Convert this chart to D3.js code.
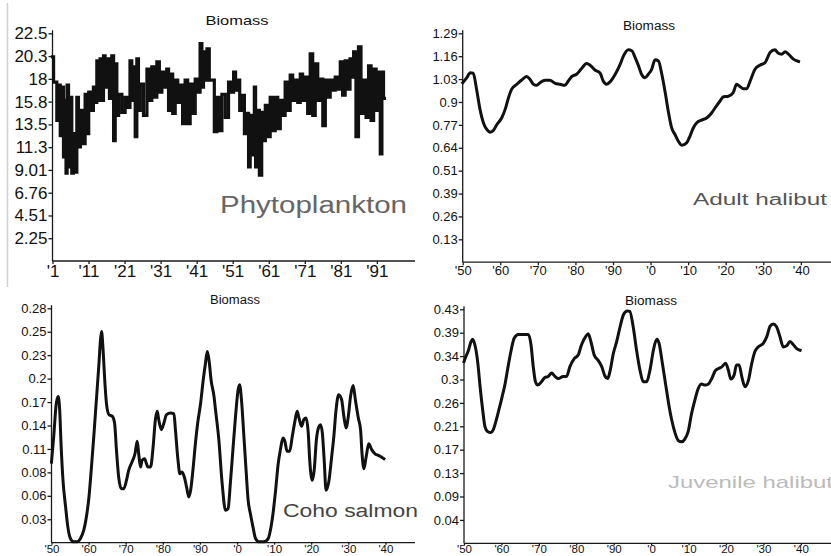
<!DOCTYPE html>
<html><head><meta charset="utf-8">
<script src="https://cdn.jsdelivr.net/npm/d3@7"></script>
<style>body{margin:0;background:#fff}svg{display:block}</style>
</head><body>
<svg id="c" width="831" height="556"></svg>
<script>
// ---------- DATA ----------
const phytoYears = [1.0,1.6,1.9,2.5,2.9,3.4,3.8,4.3,4.6,4.9,5.2,5.7,6.1,6.6,7.0,7.6,7.9,8.5,9.0,9.8,10.3,10.8,11.3,12.1,12.6,13.1,13.5,14.0,14.4,15.0,15.3,15.9,16.4,17.2,17.7,18.2,18.6,19.1,19.6,20.9,21.4,22.3,22.7,23.3,23.7,24.2,24.6,25.1,25.6,26.9,27.5,28.3,28.8,29.7,30.2,31.1,31.6,32.5,32.9,33.5,33.9,34.8,35.3,36.2,36.7,37.5,38.1,38.9,39.5,40.3,40.9,41.7,42.2,42.7,43.1,43.6,44.1,44.9,45.5,46.3,46.9,47.7,48.3,49.6,50.1,51.0,51.5,52.1,52.6,53.3,53.8,54.7,55.1,55.7,56.0,56.8,57.2,57.5,58.0,58.8,59.3,59.8,60.3,61.1,61.7,62.5,63.1,63.9,64.5,65.3,65.8,66.7,67.2,68.1,68.6,69.5,70.0,70.8,71.4,72.2,72.8,73.6,74.2,75.0,75.6,76.4,77.0,77.8,78.3,79.2,79.7,80.6,81.1,81.9,82.5,83.3,83.8,84.3,84.8,85.6,86.2,87.0,87.6,88.4,89.0,89.8,90.4,91.2,91.7,92.2,92.6,93.1];
const phytoBiomass = [20.2,17.7,17.7,13.9,17.4,12.4,17.2,10.3,15.9,8.7,17.4,9.3,16.2,8.7,12.6,8.8,16.2,11.3,14.9,11.6,16.5,12.6,16.7,14.9,17.2,15.7,19.8,15.9,20.0,15.9,20.3,17.2,20.0,16.1,20.3,11.9,19.5,14.4,16.5,14.7,16.2,15.2,19.8,15.9,19.2,12.3,20.0,14.9,17.5,14.4,19.0,15.9,19.2,16.2,19.7,16.7,18.7,17.2,19.0,14.9,18.5,14.6,17.9,15.7,17.4,13.6,17.9,13.6,17.5,14.6,18.0,16.7,21.5,17.2,20.7,17.9,21.0,17.9,17.9,12.8,16.2,12.9,16.5,14.2,17.7,16.7,18.7,16.9,17.9,14.9,16.4,12.6,14.6,9.3,14.4,10.5,17.2,9.3,14.9,8.5,14.7,11.9,15.4,12.3,16.2,12.9,16.2,13.1,15.9,14.4,17.7,14.9,18.4,15.9,17.9,15.7,18.5,15.9,18.2,14.6,20.5,14.4,19.5,15.9,18.0,13.4,17.9,16.2,17.9,16.9,18.2,17.0,19.7,16.4,19.8,17.0,20.0,18.2,20.7,12.3,21.2,14.6,17.9,14.2,19.3,13.9,19.0,14.9,18.7,10.6,18.7,16.1];

const adultYears = [1950.0,1951.1,1952.0,1952.8,1953.7,1954.6,1955.5,1956.4,1957.3,1958.2,1959.1,1960.4,1961.3,1962.2,1963.0,1964.4,1965.7,1967.0,1967.9,1968.8,1969.7,1970.6,1971.9,1973.2,1974.6,1975.9,1977.2,1978.1,1979.0,1980.3,1981.7,1983.0,1983.9,1985.2,1986.6,1987.4,1988.3,1989.2,1990.6,1991.9,1992.8,1994.1,1995.0,1995.9,1996.8,1997.6,1998.5,1999.4,2000.3,2001.2,2002.1,2003.0,2003.9,2004.7,2005.6,2006.5,2007.4,2008.3,2009.6,2010.5,2011.4,2012.3,2013.6,2015.0,2016.3,2017.2,2018.5,2019.4,2020.7,2022.0,2022.9,2023.8,2024.7,2025.6,2026.5,2027.8,2029.1,2030.5,2031.8,2033.1,2034.0,2034.9,2035.8,2036.7,2038.0,2039.4];
const adultBiomass = [1.008,1.036,1.064,1.061,0.970,0.858,0.783,0.745,0.730,0.741,0.773,0.811,0.858,0.924,0.970,0.999,1.023,1.042,1.027,0.999,0.993,1.008,1.021,1.021,1.004,0.999,0.993,1.017,1.042,1.055,1.089,1.115,1.106,1.079,1.061,1.017,0.999,1.012,1.055,1.111,1.158,1.192,1.187,1.149,1.102,1.055,1.036,1.055,1.083,1.136,1.130,1.055,0.952,0.849,0.755,0.717,0.679,0.657,0.670,0.708,0.755,0.783,0.798,0.811,0.839,0.867,0.905,0.929,0.932,0.952,0.999,0.986,0.974,0.974,1.017,1.083,1.106,1.121,1.177,1.192,1.173,1.168,1.181,1.168,1.140,1.127];

const cohoYears = [1950.0,1950.6,1951.3,1951.8,1952.2,1952.6,1953.1,1953.8,1954.4,1955.1,1956.0,1956.9,1957.8,1958.7,1959.4,1960.1,1960.7,1961.4,1962.1,1962.8,1963.2,1963.5,1963.9,1964.4,1964.8,1965.5,1966.4,1967.0,1967.5,1968.1,1968.8,1969.5,1970.2,1970.8,1971.7,1972.5,1973.1,1973.5,1974.0,1974.4,1975.1,1975.6,1976.0,1976.7,1977.4,1978.0,1978.5,1978.9,1979.6,1980.3,1981.0,1982.1,1983.0,1983.4,1984.1,1984.6,1985.2,1985.8,1986.4,1987.0,1987.5,1988.2,1988.8,1989.4,1990.2,1990.9,1991.5,1992.0,1992.5,1993.0,1993.8,1994.2,1995.1,1996.0,1996.9,1997.6,1998.2,1998.9,1999.6,2000.3,2000.7,2001.2,2001.8,2002.5,2003.0,2003.6,2004.3,2005.0,2005.9,2007.2,2008.4,2009.0,2009.7,2010.4,2011.1,2011.7,2012.4,2012.9,2013.5,2014.2,2014.9,2015.6,2016.2,2016.7,2017.4,2018.0,2018.6,2019.2,2019.6,2020.3,2020.8,2021.4,2022.1,2022.5,2023.0,2023.5,2024.0,2024.8,2025.5,2026.1,2026.7,2027.4,2028.2,2028.8,2029.4,2030.0,2030.6,2031.3,2031.9,2032.7,2033.3,2033.7,2034.2,2034.8,2035.5,2036.3,2037.2,2038.1,2038.9,2039.6];
const cohoBiomass = [0.097,0.128,0.168,0.176,0.160,0.116,0.075,0.043,0.019,0.005,0.001,0.001,0.005,0.015,0.031,0.055,0.087,0.128,0.172,0.216,0.244,0.254,0.232,0.192,0.168,0.154,0.152,0.144,0.112,0.079,0.065,0.065,0.075,0.087,0.097,0.107,0.122,0.107,0.091,0.099,0.101,0.095,0.091,0.091,0.116,0.148,0.158,0.148,0.136,0.144,0.154,0.156,0.155,0.136,0.099,0.083,0.085,0.079,0.067,0.055,0.063,0.091,0.120,0.144,0.168,0.196,0.216,0.230,0.218,0.196,0.176,0.160,0.124,0.071,0.039,0.041,0.071,0.112,0.152,0.184,0.190,0.172,0.132,0.083,0.051,0.035,0.019,0.005,0.001,0.001,0.005,0.015,0.035,0.063,0.095,0.112,0.126,0.122,0.110,0.110,0.128,0.146,0.158,0.150,0.140,0.148,0.150,0.132,0.099,0.075,0.087,0.124,0.140,0.142,0.132,0.099,0.063,0.075,0.103,0.128,0.160,0.178,0.172,0.152,0.138,0.152,0.176,0.189,0.172,0.150,0.136,0.107,0.089,0.103,0.119,0.112,0.107,0.105,0.103,0.101];

const juvYears = [1950.0,1950.3,1951.2,1951.9,1952.3,1952.9,1953.7,1954.3,1955.0,1955.6,1956.3,1957.2,1957.8,1958.5,1959.3,1960.2,1961.0,1961.7,1962.6,1963.4,1964.5,1966.3,1967.2,1967.9,1968.5,1969.1,1969.7,1970.7,1971.6,1972.5,1973.4,1974.3,1975.2,1976.5,1977.4,1978.3,1979.5,1980.5,1981.4,1982.5,1983.2,1983.9,1984.8,1985.9,1986.8,1987.7,1988.4,1989.0,1989.9,1990.8,1991.7,1992.6,1993.6,1994.3,1995.2,1996.1,1997.0,1997.9,1998.8,1999.7,2000.6,2001.5,2002.1,2003.0,2003.9,2004.8,2005.5,2006.4,2007.3,2008.1,2009.0,2009.9,2010.8,2011.7,2012.6,2013.5,2014.4,2015.3,2016.2,2017.1,2017.9,2018.8,2019.9,2020.6,2021.3,2022.2,2022.8,2023.5,2024.2,2025.1,2026.0,2026.8,2027.7,2028.6,2030.0,2030.9,2031.8,2032.6,2033.5,2034.4,2035.3,2036.2,2037.1,2038.0,2038.9,2039.8];
const juvBiomass = [0.333,0.339,0.354,0.370,0.374,0.364,0.330,0.287,0.244,0.214,0.205,0.203,0.208,0.223,0.244,0.269,0.293,0.321,0.354,0.376,0.383,0.383,0.383,0.364,0.324,0.296,0.290,0.296,0.304,0.306,0.312,0.306,0.302,0.306,0.306,0.324,0.339,0.345,0.364,0.379,0.384,0.370,0.345,0.335,0.324,0.306,0.302,0.315,0.348,0.370,0.397,0.419,0.426,0.425,0.397,0.354,0.318,0.296,0.296,0.318,0.354,0.374,0.367,0.330,0.290,0.251,0.226,0.202,0.188,0.186,0.191,0.205,0.238,0.263,0.284,0.292,0.290,0.292,0.302,0.316,0.320,0.323,0.330,0.318,0.301,0.309,0.327,0.327,0.306,0.287,0.299,0.327,0.351,0.360,0.367,0.379,0.398,0.402,0.397,0.379,0.360,0.362,0.370,0.364,0.357,0.354];

const phytoYLabels = ["2.25","4.51","6.76","9.01","11.3","13.5","15.8","18","20.3","22.5"];
const adultYLabels = ["0.13","0.26","0.39","0.51","0.64","0.77","0.9","1.03","1.16","1.29"];
const cohoYLabels  = ["0.03","0.06","0.08","0.11","0.14","0.17","0.2","0.23","0.25","0.28"];
const juvYLabels   = ["0.04","0.09","0.13","0.17","0.21","0.26","0.3","0.34","0.39","0.43"];
const phytoXTicks  = [1,11,21,31,41,51,61,71,81,91];
const phytoXLabels = ["'1","'11","'21","'31","'41","'51","'61","'71","'81","'91"];
const decadeTicks  = [1950,1960,1970,1980,1990,2000,2010,2020,2030,2040];
const decadeLabels = ["'50","'60","'70","'80","'90","'0","'10","'20","'30","'40"];
const yMaxes = {phyto:22.53, adult:1.285, coho:0.282, juv:0.429};

// ---------- DRAW ----------
const svg = d3.select("#c");
svg.append("rect").attr("width",831).attr("height",556).attr("fill","#fff");
// faint window border on the left
svg.append("line").attr("x1",7.5).attr("x2",7.5).attr("y1",3).attr("y2",287)
  .attr("stroke","#d0d0d0").attr("stroke-width",1.5);

function panel(o){
  const g = svg.append("g");
  const x = d3.scaleLinear().domain(o.xDomain).range(o.xRange);
  const y = d3.scaleLinear().domain([0,o.yMax]).range(o.yRange);
  const yTicks = d3.range(1,11).map(i=>o.yMax*i/10);
  // y axis
  const ya = g.append("g").attr("transform",`translate(${o.xRange[0]},0)`)
    .call(d3.axisLeft(y).tickValues(yTicks).tickFormat((d,i)=>o.yLabels[i]).tickSize(4).tickPadding(1));
  ya.select(".domain").attr("d",`M0,${o.yRange[0]}V${o.yRange[1]-3}`);
  // x axis
  const xa = g.append("g").attr("transform",`translate(0,${o.yRange[0]})`)
    .call(d3.axisBottom(x).tickValues(o.xTicks).tickFormat((d,i)=>o.xLabels[i]).tickSize(o.xTickLen).tickPadding(o.xPad));
  xa.select(".domain").attr("d",`M${o.xRange[0]},0H${o.axisEnd}`);
  [ya,xa].forEach(a=>{
    a.selectAll("path,line").attr("stroke","#1a1a1a").attr("stroke-width",1.3);
    a.selectAll("text").attr("fill","#111").style("font-family","'Liberation Sans',Arial,sans-serif");
  });
  ya.selectAll("text").style("font-size",o.tickSize+"px");
  xa.selectAll("text").style("font-size",o.xTickSize+"px");
  // title
  g.append("text").attr("x",o.title[0]).attr("y",o.title[1]).attr("text-anchor","middle")
    .attr("textLength",o.title[2]).attr("lengthAdjust","spacingAndGlyphs")
    .style("font-family","'Liberation Sans',Arial,sans-serif").style("font-size",o.title[3]+"px")
    .attr("fill","#111").text("Biomass");
  // big label
  g.append("text").attr("x",o.label[1]).attr("y",o.label[2])
    .attr("textLength",o.label[3]).attr("lengthAdjust","spacingAndGlyphs")
    .style("font-family","'Liberation Sans',Arial,sans-serif").style("font-size",o.label[4]+"px")
    .attr("fill",o.label[5]).text(o.label[0]);
  // line
  const line = d3.line().x(d=>x(d[0])).y(d=>y(d[1])).curve(o.curve||d3.curveLinear);
  g.append("path").datum(o.years.map((t,i)=>[t,o.values[i]]))
    .attr("d",line).attr("fill","none").attr("stroke","#111")
    .attr("stroke-width",o.sw).attr("stroke-linejoin","miter").attr("stroke-linecap","square");
}

panel({years:phytoYears, values:phytoBiomass, xDomain:[1,101], xRange:[52.5,412.9], axisEnd:415,
  yMax:yMaxes.phyto, yRange:[261,33.3], yLabels:phytoYLabels, xTicks:phytoXTicks, xLabels:phytoXLabels,
  tickSize:17, xTickSize:17, xTickLen:3, xPad:1,
  title:[237,25,63,13], label:["Phytoplankton",220,213,187,23,"#666"], sw:3.2, curve:d3.curveStep});

panel({years:adultYears, values:adultBiomass, xDomain:[1950,2048], xRange:[462.7,830.9], axisEnd:831,
  yMax:yMaxes.adult, yRange:[262.2,33.3], yLabels:adultYLabels, xTicks:decadeTicks, xLabels:decadeLabels,
  tickSize:13, xTickSize:13, xTickLen:3, xPad:1,
  title:[649,30,52,12], label:["Adult halibut",693,205,134,16,"#555"], sw:3, curve:d3.curveMonotoneX});

panel({years:cohoYears, values:cohoBiomass, xDomain:[1950,2048], xRange:[51.5,415.1], axisEnd:415,
  yMax:yMaxes.coho, yRange:[542.7,308.3], yLabels:cohoYLabels, xTicks:decadeTicks, xLabels:decadeLabels,
  tickSize:13, xTickSize:11.5, xTickLen:2, xPad:0,
  title:[235,304,50,12], label:["Coho salmon",283,517,135,18,"#444"], sw:3, curve:d3.curveMonotoneX});

panel({years:juvYears, values:juvBiomass, xDomain:[1950,2048], xRange:[464,830.8], axisEnd:831,
  yMax:yMaxes.juv, yRange:[543.3,309.3], yLabels:juvYLabels, xTicks:decadeTicks, xLabels:decadeLabels,
  tickSize:13, xTickSize:11.5, xTickLen:2, xPad:0,
  title:[651,305,52,12], label:["Juvenile halibut",668,488,165,17,"#bbb"], sw:3, curve:d3.curveMonotoneX});
</script>
</body></html>
